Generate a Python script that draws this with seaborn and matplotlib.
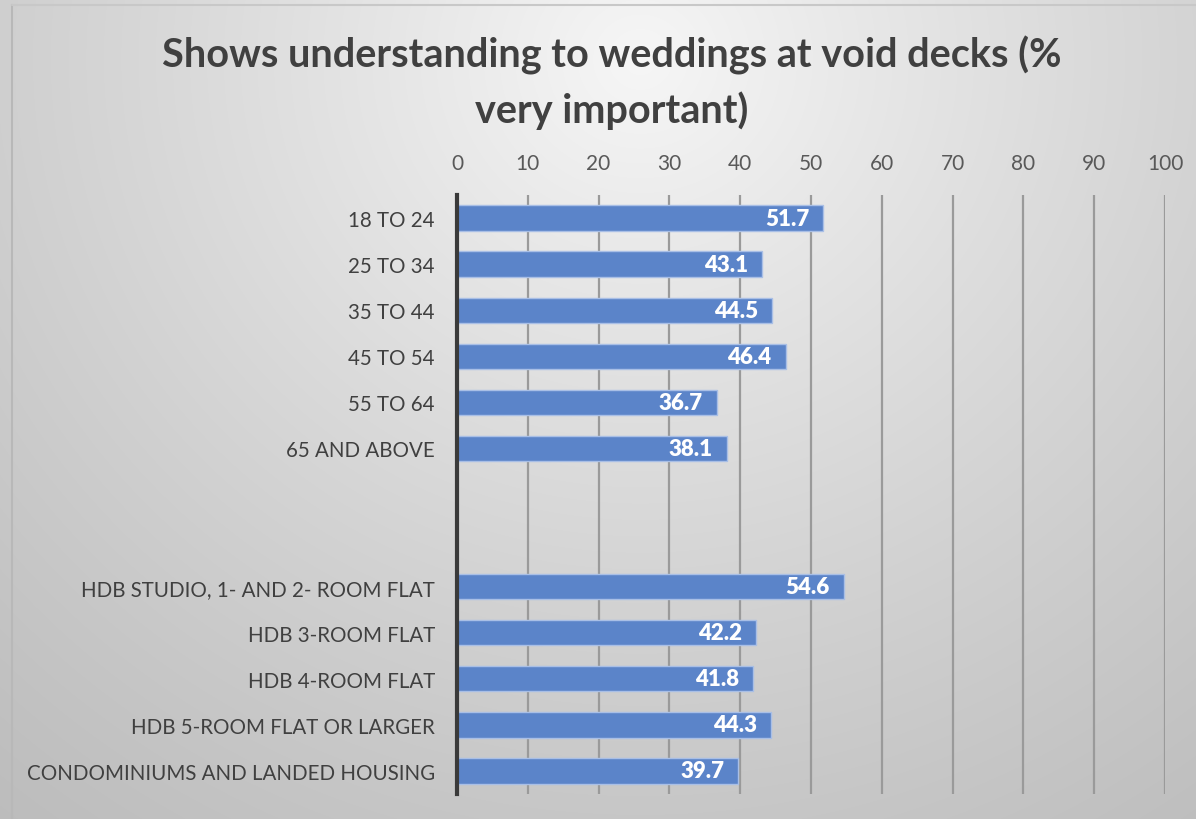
import numpy as np
import pandas as pd
import matplotlib
matplotlib.use("Agg")
import matplotlib.pyplot as plt
import seaborn as sns

categories = ["18 TO 24", "25 TO 34", "35 TO 44", "45 TO 54", "55 TO 64", "65 AND ABOVE",
              "HDB STUDIO, 1- AND 2- ROOM FLAT", "HDB 3-ROOM FLAT", "HDB 4-ROOM FLAT",
              "HDB 5-ROOM FLAT OR LARGER", "CONDOMINIUMS AND LANDED HOUSING"]
values = [51.7, 43.1, 44.5, 46.4, 36.7, 38.1, 54.6, 42.2, 41.8, 44.3, 39.7]
gap_slots = [" ", "  "]
order = categories[:6] + gap_slots + categories[6:]
xticks = [0, 10, 20, 30, 40, 50, 60, 70, 80, 90, 100]
title = "Shows understanding to weddings at void decks (%\nvery important)"

sns.set_theme(style="white")
plt.rcParams["font.family"] = ["Lato", "DejaVu Sans"]

W, H = 1196, 820
fig = plt.figure(figsize=(W / 100, H / 100), dpi=100)

# background gradient
bg = fig.add_axes([0, 0, 1, 1], zorder=-10)
yy, xx = np.mgrid[0:H, 0:W]
cx, cy = 640, 60
r = np.sqrt(((xx - cx) / 1.0) ** 2 + ((yy - cy) / 0.95) ** 2)
t = np.clip(r / 1100, 0, 1)
lo, hi = 0.965, 0.73
g = hi + (lo - hi) * (1 - t) ** 1.2
img = np.dstack([g, g, g])
bg.imshow(img, aspect="auto", extent=[0, W, H, 0], interpolation="bilinear")
bg.set_xlim(0, W); bg.set_ylim(H, 0); bg.axis("off")
bg.plot([12, 12], [H, 6], color="#b8b8b8", lw=1.5)
bg.plot([12, W], [6, 6], color="#c8c8c8", lw=1.5)

df = pd.DataFrame({"category": categories, "value": values})
ax = fig.add_axes([457 / W, 1 - 795 / H, (1165 - 457) / W, (795 - 196) / H])
ax.patch.set_alpha(0)
sns.barplot(data=df, y="category", x="value", order=order, ax=ax,
            color="#5b84c9", saturation=1, width=0.55,
            edgecolor="#a9bfe6", linewidth=1.0, zorder=3)

ax.set_xlim(0, 100)
ax.set_xticks(xticks)
ax.xaxis.tick_top()
ax.tick_params(axis="x", length=0, pad=16, labelsize=15, labelcolor="#595959")
ax.tick_params(axis="y", length=0, pad=16, labelsize=14.8, labelcolor="#404040")
ax.set_xlabel(""); ax.set_ylabel("")
for x in xticks[1:]:
    ax.axvline(x, color="#9a9a9a", lw=1.6, zorder=1)
for s in ["top", "right", "bottom"]:
    ax.spines[s].set_visible(False)
ax.spines["left"].set_color("#3a3a3a")
ax.spines["left"].set_linewidth(3)
ax.spines["left"].set_zorder(5)

for cont in ax.containers:
    labels = [f"{v:.1f}" for v in cont.datavalues]
    ax.bar_label(cont, labels=labels, padding=-10, color="white", fontsize=16,
                 fontweight="heavy", label_type="edge")
for txt in ax.texts:
    txt.set_ha("right")

fig.text(612 / W, 1 - 36 / H, title, ha="center", va="top", fontsize=28.5,
         fontweight="bold", color="#404040", linespacing=1.5)

fig.savefig("out.png", dpi=100)
